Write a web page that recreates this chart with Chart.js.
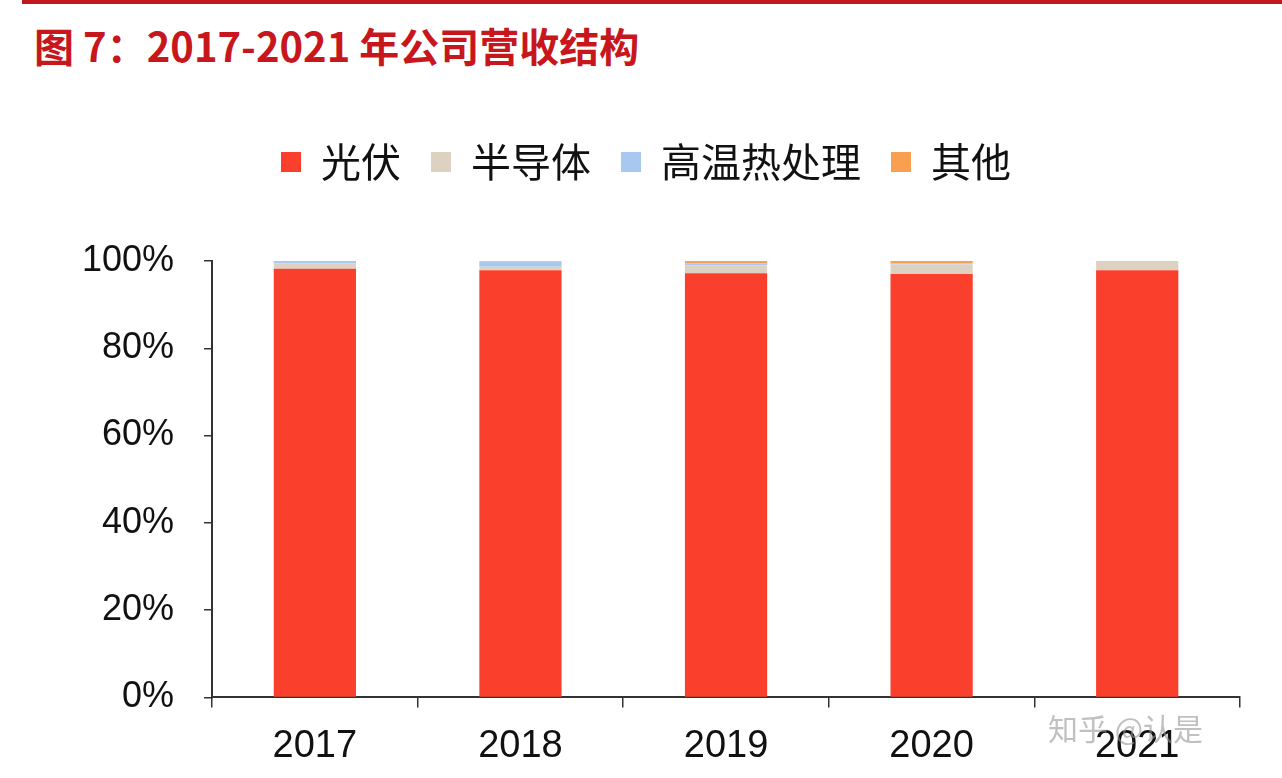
<!DOCTYPE html>
<html><head><meta charset="utf-8">
<script src="https://cdn.jsdelivr.net/npm/chart.js@4"></script>
<style>
body{margin:0;background:#fff;font-family:"Noto Sans CJK SC",sans-serif;width:1282px;height:778px;position:relative;overflow:hidden}
#topline{position:absolute;left:22px;right:0;top:0;height:4px;background:#c0181f}
#title{position:absolute;left:34px;top:16px;font-size:40px;font-weight:bold;color:#c8161d}
#wrap{position:absolute;left:52px;top:112px;width:1198px;height:681px}
#wm{position:absolute;left:1048px;top:705px;font-size:30px;color:rgba(150,150,150,0.6)}
</style></head><body>
<div id="topline"></div>
<div id="title">图 7：2017-2021 年公司营收结构</div>
<div id="wrap"><canvas id="c"></canvas></div>
<div id="wm">知乎 @认是</div>
<script>
const years = ['2017','2018','2019','2020','2021'];
const pv = [98.2, 97.9, 97.2, 97.0, 97.9];
const semi = [1.2, 0.8, 1.8, 2.2, 2.1];
const heat = [0.4, 1.2, 0.4, 0.2, 0];
const other = [0.2, 0.1, 0.6, 0.6, 0];
new Chart(document.getElementById('c'), {
  type: 'bar',
  data: { labels: years, datasets: [
    {label:'光伏', data: pv, backgroundColor:'#fa402d'},
    {label:'半导体', data: semi, backgroundColor:'#ddd2c2'},
    {label:'高温热处理', data: heat, backgroundColor:'#a7c8f0'},
    {label:'其他', data: other, backgroundColor:'#f8a050'}
  ]},
  plugins:[{id:'lp',beforeInit(chart){const f=chart.legend.fit;chart.legend.fit=function(){f.bind(chart.legend)();this.height+=69;};}}],
  options: {
    responsive:true, maintainAspectRatio:false, animation:false,
    layout:{padding:{right:10,bottom:8}},
    datasets:{bar:{categoryPercentage:0.4, barPercentage:1}},
    plugins:{legend:{position:'top',labels:{font:{size:40,family:'Noto Sans CJK SC'},color:'#111',boxWidth:20,boxHeight:20,padding:30}},
      tooltip:{enabled:false}},
    scales:{
      x:{stacked:true,grid:{display:true,drawOnChartArea:false,offset:true,tickLength:10,color:'#333',lineWidth:1.5},border:{color:'#333',width:2},
        ticks:{font:{size:38,family:'Arial'},color:'#111',padding:16}},
      y:{stacked:true,min:0,max:100,ticks:{stepSize:20,callback:v=>v+'%',font:{size:36,family:'Arial'},color:'#111',padding:30},
        grid:{display:true,drawOnChartArea:false,tickLength:8,color:'#333',lineWidth:1.5},border:{color:'#333',width:2}}
    }
  }
});
</script>
</body></html>
